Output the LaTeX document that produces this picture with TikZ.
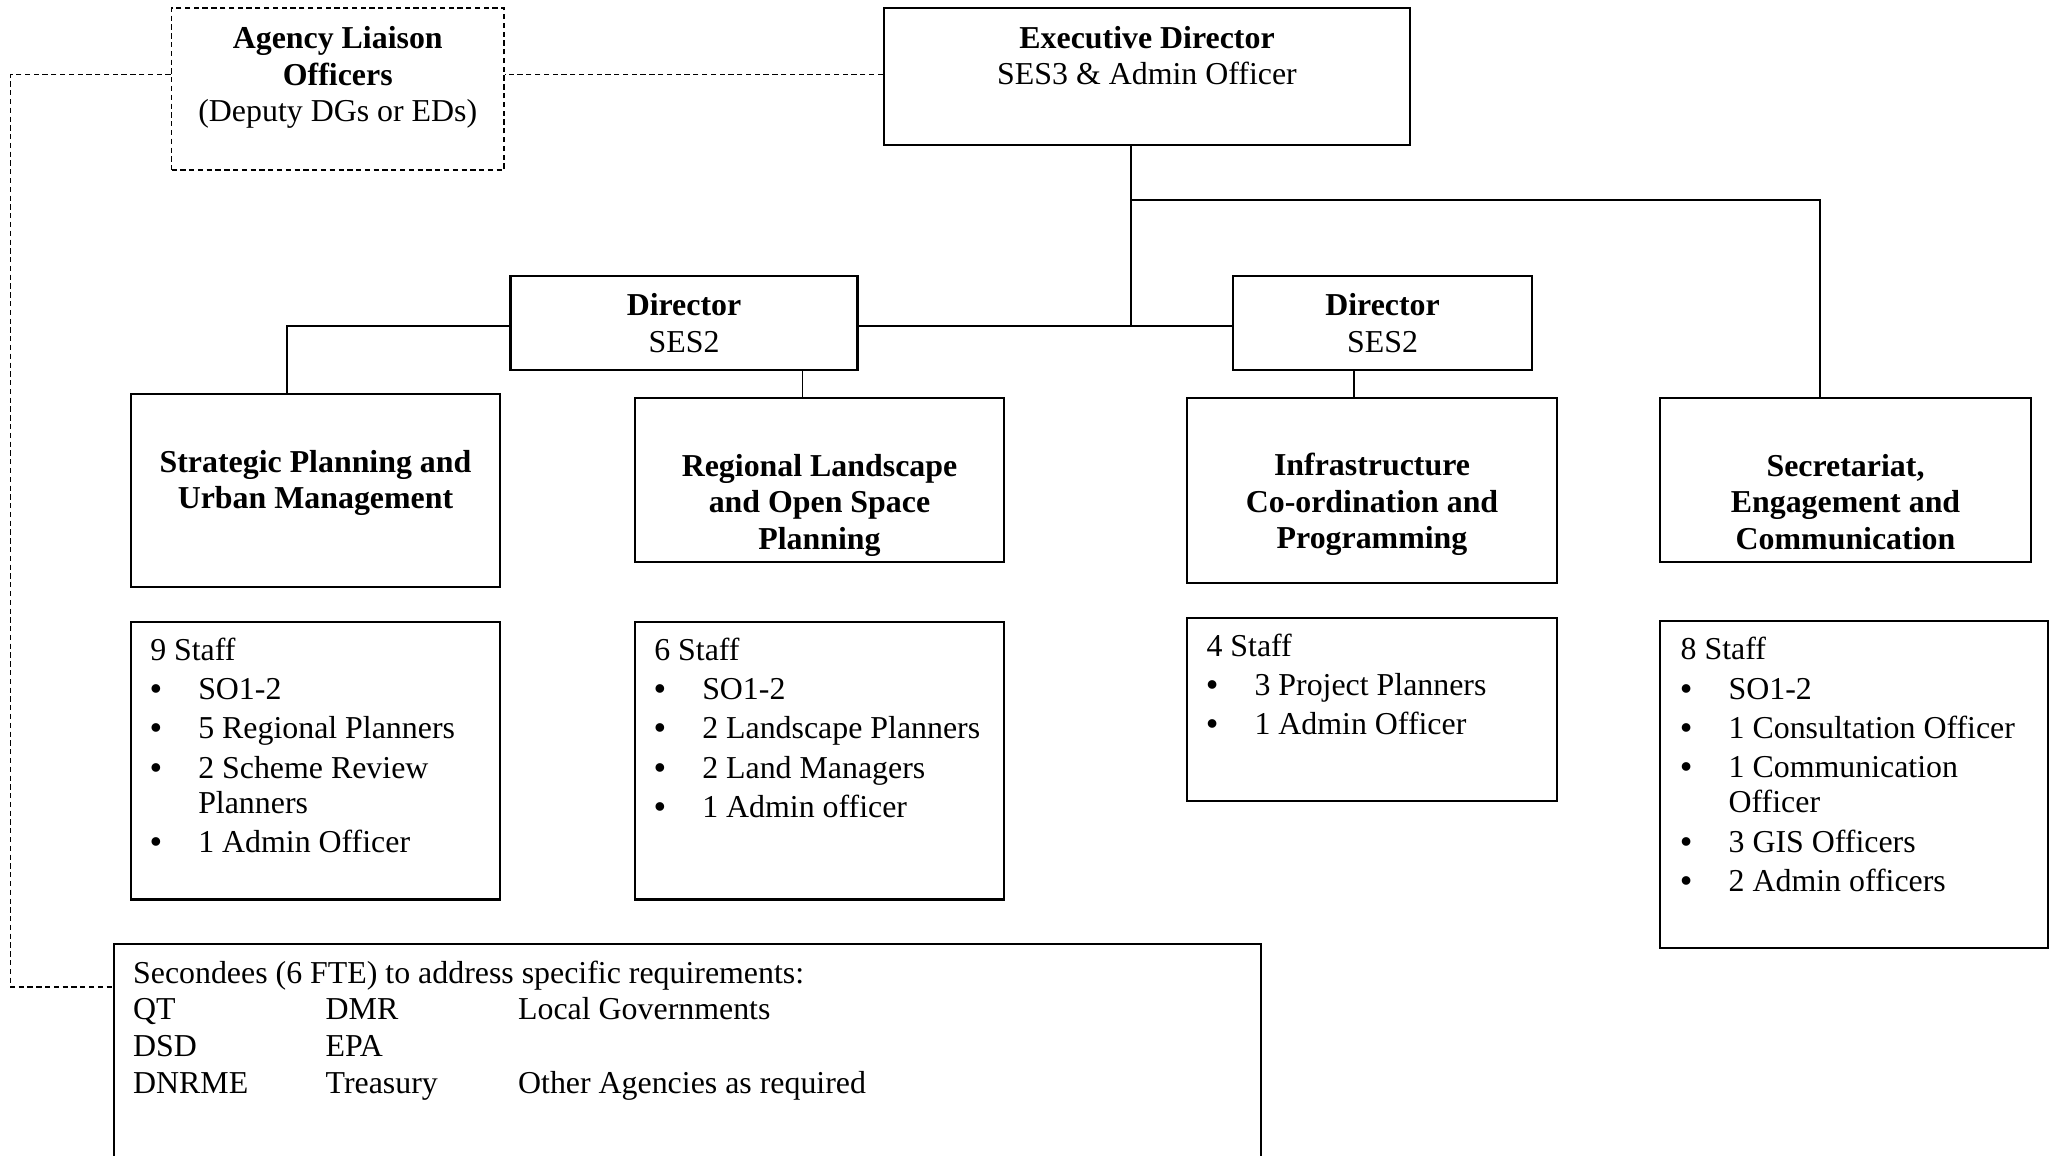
\documentclass[tikz,border=0pt]{standalone}
\usepackage{fontspec}
\setmainfont{Liberation Serif}
\usetikzlibrary{positioning}

\newcommand{\itm}{\makebox[0.48cm][l]{\textbf{\textbullet}}}
\newcommand{\cnt}{\hspace*{0.48cm}}

\begin{document}
\begin{tikzpicture}[
    box/.style={draw, line width=0.6pt, rectangle, inner sep=0pt},
    dbox/.style={draw, dash pattern=on 1.5pt off 1pt, line width=0.5pt, rectangle, inner sep=0pt},
    title/.style={font=\fontsize{9.07}{10.4}\selectfont\bfseries, align=center, inner sep=0pt, anchor=north},
    txt/.style={font=\fontsize{9.07}{11.2}\selectfont, align=left, inner sep=0pt, anchor=north west},
    link/.style={line width=0.5pt},
    dlink/.style={dash pattern=on 1.5pt off 1pt, line width=0.5pt}
]
\useasboundingbox (0,0) rectangle (20.53,-11.56);
\clip (0,0) rectangle (20.53,-11.56);

% top level
\node[box, minimum width=5.26cm, minimum height=1.37cm] (ed) at (11.47,-0.765) {};
\node[title, below=0.186cm of ed.north] (edt) {Executive Director\\\mdseries SES3 \& Admin Officer};
\node[dbox, minimum width=3.325cm, minimum height=1.62cm] (alo) at (3.378,-0.89) {};
\node[title, below=0.186cm of alo.north] (alot) {Agency Liaison\\Officers\\\mdseries (Deputy DGs or EDs)};

% directors
\node[box, minimum width=3.47cm, minimum height=0.945cm, align=center, font=\fontsize{9.07}{10.4}\selectfont] (da) at (6.84,-3.23) {\textbf{Director}\\SES2};
\node[box, minimum width=2.99cm, minimum height=0.945cm, align=center, font=\fontsize{9.07}{10.4}\selectfont] (db) at (13.825,-3.23) {\textbf{Director}\\SES2};

% units
\node[box, minimum width=3.69cm, minimum height=1.926cm] (spum) at (3.155,-4.903) {};
\node[title, below=0.566cm of spum.north] (spumt) {Strategic Planning and\\Urban Management};
\node[box, minimum width=3.69cm, minimum height=1.64cm] (rlos) at (8.195,-4.80) {};
\node[title, below=0.566cm of rlos.north] (rlost) {Regional Landscape\\and Open Space\\Planning};
\node[box, minimum width=3.695cm, minimum height=1.846cm] (icp) at (13.72,-4.903) {};
\node[title, below=0.556cm of icp.north] (icpt) {Infrastructure\\Co-ordination and\\Programming};
\node[box, minimum width=3.71cm, minimum height=1.64cm] (sec) at (18.455,-4.80) {};
\node[title, below=0.566cm of sec.north] (sect) {Secretariat,\\Engagement and\\Communication};

% staff
\node[box, minimum width=3.69cm, minimum height=2.775cm] (s9) at (3.155,-7.6075) {};
\node[txt, below right=0.16cm and 0.196cm of s9.north west] (s9t) {9 Staff\\\itm SO1-2\\\itm 5 Regional Planners\\\itm 2 Scheme Review\\[-1.2pt]\cnt Planners\\\itm 1 Admin Officer};
\node[box, minimum width=3.69cm, minimum height=2.775cm] (s6) at (8.195,-7.6075) {};
\node[txt, below right=0.16cm and 0.196cm of s6.north west] (s6t) {6 Staff\\\itm SO1-2\\\itm 2 Landscape Planners\\\itm 2 Land Managers\\\itm 1 Admin officer};
\node[box, minimum width=3.695cm, minimum height=1.83cm] (s4) at (13.72,-7.095) {};
\node[txt, below right=0.16cm and 0.196cm of s4.north west] (s4t) {4 Staff\\\itm 3 Project Planners\\\itm 1 Admin Officer};
\node[box, minimum width=3.88cm, minimum height=3.274cm] (s8) at (18.54,-7.843) {};
\node[txt, below right=0.17cm and 0.21cm of s8.north west] (s8t) {8 Staff\\\itm SO1-2\\\itm 1 Consultation Officer\\\itm 1 Communication\\[-1.2pt]\cnt Officer\\\itm 3 GIS Officers\\\itm 2 Admin officers};

% secondees
\node[box, minimum width=11.47cm, minimum height=2.46cm] (scd) at (6.875,-10.67) {};
\node[txt, font=\fontsize{9.07}{10.5}\selectfont, below right=0.136cm and 0.195cm of scd.north west] (scdt) {\begin{tabular}{@{}p{1.925cm}@{}p{1.925cm}@{}l@{}}
\multicolumn{3}{@{}l@{}}{Secondees (6 FTE) to address specific requirements:}\\
QT & DMR & Local Governments\\
DSD & EPA & \\
DNRME & Treasury & Other Agencies as required
\end{tabular}};

% lines
\coordinate (hub) at (11.31,-3.26);
\coordinate (bar) at (11.31,-2.0);
\coordinate (jsec) at (18.20,-2.0);
\coordinate (jsp) at (2.87,-3.26);
\coordinate (jrl) at (8.026,0);
\coordinate (jic) at (13.54,0);
\coordinate (lt) at (0.105,-0.746);
\coordinate (lb) at (0.105,-9.87);

\draw[link] (ed.south -| hub) -- (hub);
\draw[link] (bar) -- (jsec) -- (sec.north -| jsec);
\draw[link] (da.east |- hub) -- (db.west |- hub);
\draw[link] (da.west |- jsp) -- (jsp) -- (spum.north -| jsp);
\draw[link] (da.south -| jrl) -- (rlos.north -| jrl);
\draw[link] (db.south -| jic) -- (icp.north -| jic);

\draw[dlink] (ed.west |- lt) -- (alo.east |- lt);
\draw[dlink] (alo.west |- lt) -- (lt) -- (lb) -- (scd.west |- lb);
\end{tikzpicture}
\end{document}
